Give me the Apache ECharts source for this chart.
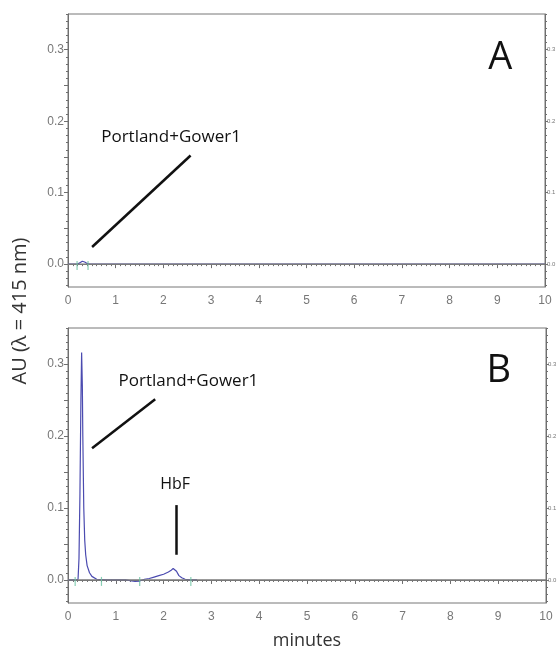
<!DOCTYPE html>
<html><head><meta charset="utf-8">
<script src="https://cdn.jsdelivr.net/npm/echarts@6/dist/echarts.min.js"></script>
<style>html,body{margin:0;padding:0;background:#fff}#c{width:560px;height:652px}</style>
</head><body><div id="c"></div>
<script>
// ---- data (minutes, AU) ----
const timeA = [0, 0.2, 0.25, 0.3, 0.35, 0.4, 0.45, 10];
const auA   = [0, 0, 0.002, 0.004, 0.003, 0.001, 0, 0];
const timeB = [0, 0.15, 0.21, 0.23, 0.25, 0.27, 0.285, 0.3, 0.31, 0.33, 0.35, 0.37, 0.4, 0.45, 0.5, 0.6, 0.8, 1.0, 1.2, 1.3, 1.4, 1.5, 1.6, 1.7, 1.8, 1.9, 2.0, 2.1, 2.15, 2.2, 2.23, 2.27, 2.32, 2.38, 2.45, 2.55, 2.7];
const auB   = [0, 0, 0.001, 0.03, 0.12, 0.25, 0.316, 0.27, 0.2, 0.1, 0.055, 0.035, 0.02, 0.01, 0.005, 0.001, 0, 0, 0, -0.001, -0.002, -0.0015, 0.001, 0.002, 0.004, 0.006, 0.008, 0.011, 0.013, 0.016, 0.017, 0.012, 0.006, 0.003, 0.001, 0, 0];
const baseTime = [0, 10];
const baseAU = [0, 0];
const greenA = [0.19, 0.42];
const greenB = [0.15, 0.7, 1.5, 2.57];
const xTickLabels = [0,1,2,3,4,5,6,7,8,9,10];
const yTickLabels = [0, 0.1, 0.2, 0.3];
const yMidTicks = [0, 0.05, 0.1, 0.15, 0.2, 0.25, 0.3];
const yMin = -0.032, yMax = 0.35;
// annotations
const annA = {text: 'Portland+Gower1', textAt: [2.16, 0.178], line: [[0.505, 0.024], [2.57, 0.152]], letter: 'A', letterAt: [9.06, 0.288]};
const annB = {text: 'Portland+Gower1', textAt: [2.52, 0.276], line: [[0.503, 0.183], [1.824, 0.251]], letter: 'B', letterAt: [9.01, 0.290],
  text2: 'HbF', text2At: [2.24, 0.132], line2: [[2.26, 0.104], [2.26, 0.035]]};

const yMinorTicks = [];
for (let i = -3; i <= 35; i++) yMinorTicks.push(+(i / 100).toFixed(2));

const pair = (t, v) => t.map((x, i) => [x, v[i]]);
const gray = '#6f6f6f';
const labelFont = 'Liberation Sans, Arial, sans-serif';
const annFont = 'Open Sans, sans-serif';

function yAxes(gi) {
  const common = {type: 'value', gridIndex: gi, min: yMin, max: yMax, splitLine: {show: false}};
  return [
    Object.assign({}, common, {position: 'left', axisLine: {show: true, lineStyle: {color: gray}},
      axisTick: {show: true, customValues: yMidTicks, length: 4, lineStyle: {color: gray}},
      axisLabel: {customValues: yTickLabels, formatter: v => v.toFixed(1), color: '#777', fontSize: 12, margin: 4, fontFamily: labelFont}}),
    Object.assign({}, common, {position: 'left', axisLine: {show: false},
      axisTick: {show: true, customValues: yMinorTicks, length: 2, lineStyle: {color: gray}}, axisLabel: {show: false}}),
    Object.assign({}, common, {position: 'right', axisLine: {show: true, lineStyle: {color: gray}},
      axisTick: {show: true, customValues: yMidTicks, length: 3, lineStyle: {color: gray}},
      axisLabel: {customValues: yTickLabels, formatter: v => v.toFixed(1), color: '#777', fontSize: 6, margin: 2, fontFamily: labelFont}}),
    Object.assign({}, common, {position: 'right', axisLine: {show: false},
      axisTick: {show: true, customValues: yMinorTicks, length: 2, lineStyle: {color: gray}}, axisLabel: {show: false}})
  ];
}
function xAxis(gi, name) {
  return {type: 'value', gridIndex: gi, min: 0, max: 10, interval: 1,
    axisLine: {show: true, lineStyle: {color: gray}},
    axisTick: {show: true, length: 4, lineStyle: {color: gray}},
    minorTick: {show: true, splitNumber: 10, length: 2, lineStyle: {color: gray}},
    splitLine: {show: false}, minorSplitLine: {show: false},
    axisLabel: {color: '#777', fontSize: 12, margin: 8, fontFamily: labelFont,
      customValues: xTickLabels},
    name: name || '', nameLocation: 'middle', nameGap: 29,
    nameTextStyle: {fontSize: 18, color: '#333', fontFamily: annFont}};
}
function annSeries(xi, yi, ann) {
  const lines = [ann.line].concat(ann.line2 ? [ann.line2] : []);
  const pts = [{coord: ann.textAt, value: ann.text, label: {fontSize: 17}},
               {coord: ann.letterAt, value: ann.letter, label: {fontSize: 38}}];
  if (ann.text2) pts.push({coord: ann.text2At, value: ann.text2, label: {fontSize: 16}});
  return {type: 'line', xAxisIndex: xi, yAxisIndex: yi, data: [], silent: true,
    markLine: {silent: true, symbol: ['none', 'none'], animation: false,
      lineStyle: {color: '#111', width: 2.5, type: 'solid'}, label: {show: false},
      data: lines.map(l => [{coord: l[0]}, {coord: l[1]}])},
    markPoint: {silent: true, animation: false, symbol: 'rect', symbolSize: 1, itemStyle: {color: 'rgba(0,0,0,0)'},
      label: {show: true, position: 'inside', formatter: p => p.value, color: '#111', fontFamily: annFont},
      data: pts}};
}
function traces(xi, yi, t, v, g) {
  return [
    {type: 'line', xAxisIndex: xi, yAxisIndex: yi, data: pair(t, v), showSymbol: false, animation: false,
      lineStyle: {color: '#4b4bb0', width: 1.2}, z: 3},
    {type: 'line', xAxisIndex: xi, yAxisIndex: yi, data: pair(baseTime, baseAU), showSymbol: false, animation: false,
      lineStyle: {color: '#7a7a7a', width: 1.5}, z: 4},
    {type: 'scatter', xAxisIndex: xi, yAxisIndex: yi, data: g.map(x => [x, -0.002]), symbol: 'rect', symbolSize: [1.2, 9],
      itemStyle: {color: '#6cc3a2'}, animation: false, z: 5}
  ];
}

const chart = echarts.init(document.getElementById('c'), null, {renderer: 'canvas'});
chart.setOption({
  backgroundColor: '#fff',
  animation: false,
  grid: [
    {left: 68, top: 14, width: 477, height: 273, show: true, borderColor: '#777', borderWidth: 1, containLabel: false, outerBoundsMode: 'none'},
    {left: 68, top: 328, width: 478, height: 275, show: true, borderColor: '#777', borderWidth: 1, containLabel: false, outerBoundsMode: 'none'}
  ],
  xAxis: [xAxis(0), xAxis(1, 'minutes')],
  yAxis: yAxes(0).concat(yAxes(1)),
  graphic: [{type: 'text', x: 20, y: 311, rotation: Math.PI / 2,
    style: {text: 'AU (λ = 415 nm)', fontSize: 20, fill: '#333', fontFamily: annFont, align: 'center', verticalAlign: 'middle'}}],
  series: [].concat(
    traces(0, 0, timeA, auA, greenA), [annSeries(0, 0, annA)],
    traces(1, 4, timeB, auB, greenB), [annSeries(1, 4, annB)]
  )
});
</script></body></html>
